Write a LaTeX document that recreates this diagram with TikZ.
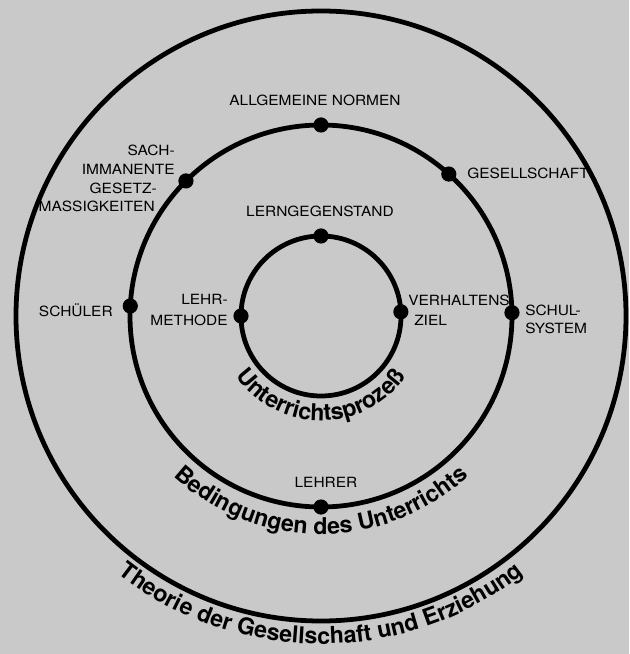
\documentclass[tikz,border=0pt]{standalone}
\usepackage{fontspec}
\setmainfont{TeX Gyre Heros}
\newfontfamily\widefont[FakeStretch=1.1]{TeX Gyre Heros}
\usetikzlibrary{decorations.text, positioning}
\definecolor{paper}{gray}{0.79}
\newcommand{\ringfont}{\fontsize{16.5}{16.5}\selectfont\bfseries}

\begin{document}
\begin{tikzpicture}[
    ring/.style={draw=black, line width=3.4pt},
    dot/.style={circle, fill=black, minimum size=3.8mm, inner sep=0pt},
    tag/.style={font=\widefont\fontsize{10}{#1}\selectfont, inner sep=0pt},
    tag/.default=14,
    arctext/.style={decorate, decoration={text along path, text align=center, text={|\ringfont|#1}}}
]
% paper
\fill[paper] (-8.025,-8.45) rectangle (7.7,7.9);
\useasboundingbox (-8.025,-8.45) rectangle (7.7,7.9);

% the three rings
\draw[ring] (0,0) circle[radius=2];
\draw[ring] (0,0) circle[radius=4.775];
\draw[ring] (0,0) circle[radius=7.625];

% points on the inner ring
\node[dot] (gegenstand) at (90:2) {};
\node[dot] (methode) at (180:2) {};
\node[dot] (ziel) at (3:2) {};

% points on the middle ring
\node[dot] (normen) at (90:4.775) {};
\node[dot] (gesellschaft) at (48:4.775) {};
\node[dot] (sachimm) at (135:4.775) {};
\node[dot] (schueler) at (177:4.775) {};
\node[dot] (schulsys) at (1:4.775) {};
\node[dot] (lehrer) at (270:4.775) {};

% labels
\node[tag] (normen-l) at (-0.15,5.4) {ALLGEMEINE NORMEN};
\node[tag, anchor=west] (gesellschaft-l) at (3.65,3.575) {GESELLSCHAFT};
\node[tag=13.5, anchor=east, align=right] (sachimm-l) at (-3.65,3.44)
    {SACH-\\IMMANENTE\\GESETZ-\rule{4.5mm}{0pt}\\MASSIGKEITEN\rule{5mm}{0pt}};
\node[tag, anchor=east] (schueler-l) at (-5.2,0.15) {SCHÜLER};
\node[tag=15, anchor=east, align=right] (methode-l) at (-2.325,0.14) {LEHR-\\METHODE};
\node[tag=14.5, anchor=west, align=left] (ziel-l) at (2.175,0.15) {VERHALTENS\\\rule{1.5mm}{0pt}ZIEL};
\node[tag=12.5, anchor=west, align=left] (schulsys-l) at (5.1,-0.09) {SCHUL-\\SYSTEM};
\node[tag] (gegenstand-l) at (-0.025,2.625) {LERNGEGENSTAND};
\node[tag] (lehrer-l) at (0.125,-4.15) {LEHRER};

% ring titles
\path[arctext=Unterrichtsprozeß] (200:2.62) arc[start angle=200, end angle=340, radius=2.62];
\path[arctext=Bedingungen des Unterrichts] (200:5.45) arc[start angle=200, end angle=340, radius=5.45];
\path[arctext=Theorie der Gesellschaft und Erziehung] (220:8.2) arc[start angle=220, end angle=320, radius=8.2];
\end{tikzpicture}
\end{document}
